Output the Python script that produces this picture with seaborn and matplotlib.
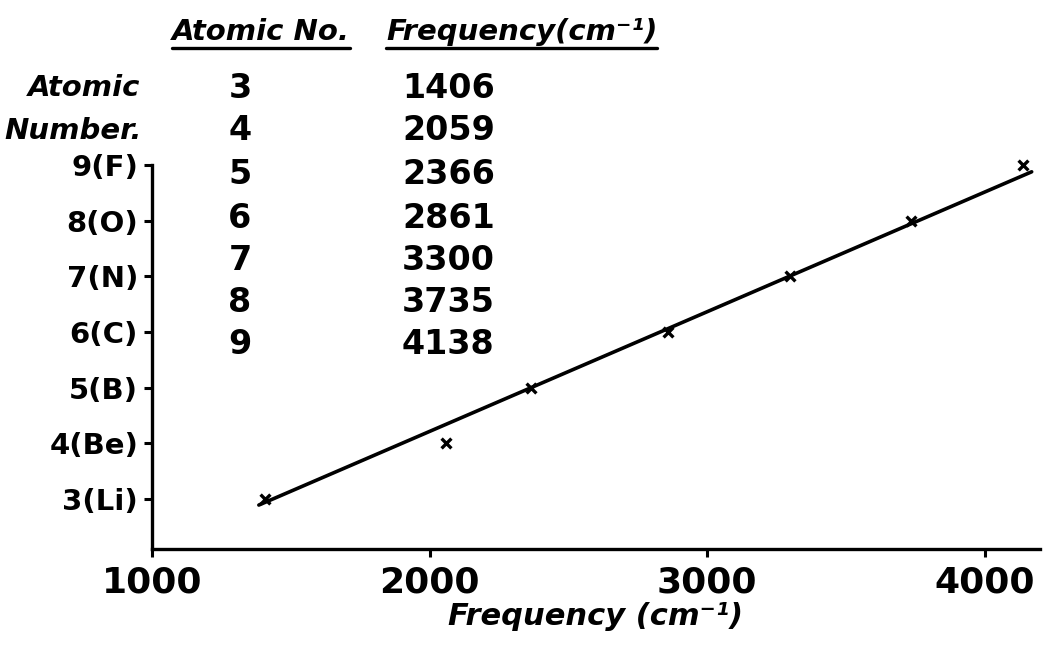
import matplotlib
matplotlib.use("Agg")
import matplotlib.pyplot as plt
import seaborn as sns
from matplotlib.lines import Line2D

# data
atomic_numbers = [3, 4, 5, 6, 7, 8, 9]
frequencies = [1406, 2059, 2366, 2861, 3300, 3735, 4138]
ytick_labels = ["3(Li)", "4(Be)", "5(B)", "6(C)", "7(N)", "8(O)", "9(F)"]
xticks = [1000, 2000, 3000, 4000]
# hand drawn straight line through the points (end points)
line_freq = [1385, 4170]
line_z = [2.89, 8.88]

W, H = 1053, 645
sns.set_theme(style="ticks")
plt.rcParams['font.family'] = ['DejaVu Sans']
plt.rcParams['text.color'] = 'black'
plt.rcParams['xtick.color'] = 'black'
plt.rcParams['ytick.color'] = 'black'
plt.rcParams['axes.labelcolor'] = 'black'

fig = plt.figure(figsize=(W / 100, H / 100), dpi=100)
ax = fig.add_axes([152 / W, 96 / H, 888 / W, 395 / H])

def fx(x):
    return x / W

def fy(y):
    return 1 - y / H

sns.lineplot(x=line_freq, y=line_z, ax=ax, color="black", linewidth=2.6)
sns.scatterplot(x=frequencies, y=atomic_numbers, ax=ax, marker="x", color="black",
                s=50, linewidth=2.4, zorder=5)

ax.set_xlim(1000, 4200)
ax.set_ylim(2.1, 9.2)
ax.set_xticks(xticks)
ax.set_xticklabels([str(t) for t in xticks], fontsize=26, fontweight="bold")
ax.set_yticks(atomic_numbers)
ax.set_yticklabels(ytick_labels, fontsize=21, fontweight="bold")
ax.tick_params(axis="both", length=6, width=2.2, color="black", pad=4)
ax.tick_params(axis="x", pad=6)
sns.despine(ax=ax)
ax.spines["left"].set_bounds(2.1, 9.0)
for s in ["left", "bottom"]:
    ax.spines[s].set_linewidth(2.4)
    ax.spines[s].set_color("black")
ax.set_xlabel("Frequency (cm\u207b\u00b9)", fontsize=22, fontweight="bold",
              fontstyle="italic", labelpad=2)

# table of values at the top
hdr_kw = dict(fontsize=21, fontweight="bold", fontstyle="italic", va="center")
h1 = fig.text(fx(172), fy(32), "Atomic No.", ha="left", **hdr_kw)
h2 = fig.text(fx(386), fy(32), "Frequency(cm\u207b\u00b9)", ha="left", **hdr_kw)
fig.text(fx(140), fy(88), "Atomic", ha="right", **hdr_kw)
fig.text(fx(142), fy(131), "Number.", ha="right", **hdr_kw)

row_y = [88, 131, 175, 218, 260, 302, 344]
for z, f, y in zip(atomic_numbers, frequencies, row_y):
    fig.text(fx(240), fy(y), str(z), ha="center", va="center", fontsize=24, fontweight="bold")
    fig.text(fx(402), fy(y), str(f), ha="left", va="center", fontsize=24, fontweight="bold")

# underline the headers
fig.canvas.draw()
r = fig.canvas.get_renderer()
for h in (h1, h2):
    bb = h.get_window_extent(renderer=r)
    yl = (bb.y0 - 2) / H
    fig.add_artist(Line2D([bb.x0 / W, bb.x1 / W], [yl, yl], color="black", linewidth=2.4))

fig.savefig("out.png", dpi=100)
